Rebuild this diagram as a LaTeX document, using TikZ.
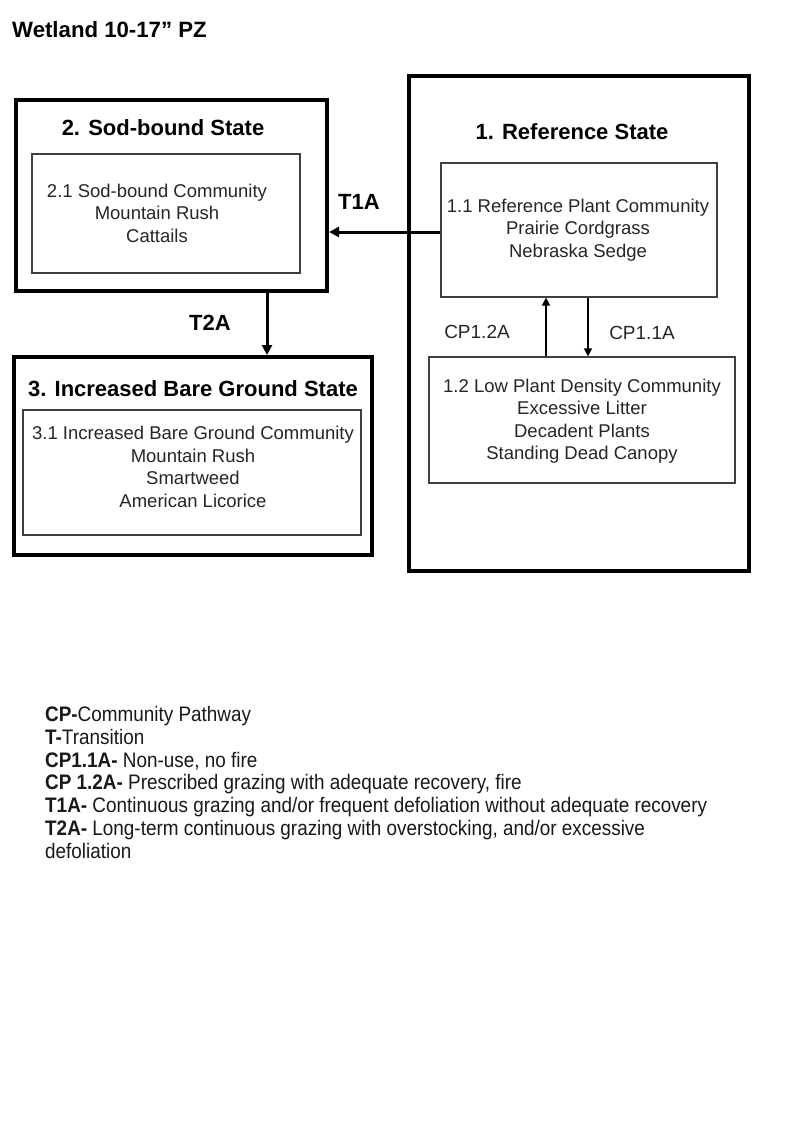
\documentclass[tikz,border=0pt]{standalone}
\usepackage{fontspec}
\setmainfont{Liberation Sans}
\newfontfamily\narrowfont[FakeStretch=0.9]{Liberation Sans}
\usetikzlibrary{arrows.meta}
\tikzset{
  statebox/.style={draw=black, line width=4pt, rectangle, inner sep=0pt},
  commbox/.style={draw=black!75, line width=1.2pt, rectangle, inner sep=0pt},
  commtext/.style={align=center, inner sep=0pt, text=black!85, font=\fontsize{18.5}{22.5}\selectfont},
  statetitle/.style={inner sep=0pt, font=\bfseries\fontsize{22}{26}\selectfont},
  translabel/.style={inner sep=0pt, font=\bfseries\fontsize{22}{26}\selectfont},
  cplabel/.style={inner sep=0pt, text=black!85, font=\fontsize{19}{22}\selectfont},
  bigarrow/.style={line width=3pt, -{Triangle[length=10pt,width=10pt]}},
  smallarrow/.style={line width=1.4pt, -{Triangle[length=8pt,width=8pt]}}
}
\begin{document}
\begin{tikzpicture}[x=1pt,y=-1pt]
\useasboundingbox[fill=white] (0,0) rectangle (800,1143);

\node[anchor=base west, inner sep=0pt, font=\bfseries\fontsize{22.2}{26}\selectfont] (title) at (12,37) {Wetland 10-17” PZ};

% state boxes
\node[statebox, minimum width=311pt, minimum height=191pt] (s2) at (171.5,195.5) {};
\node[statebox, minimum width=340pt, minimum height=495pt] (s1) at (579,323.5) {};
\node[statebox, minimum width=358pt, minimum height=198pt] (s3) at (193,456) {};

% community boxes
\node[commbox, minimum width=268pt, minimum height=119pt] (c21) at (166,213.5) {};
\node[commbox, minimum width=276pt, minimum height=134pt] (c11) at (579,230) {};
\node[commbox, minimum width=306pt, minimum height=126pt] (c12) at (582,420) {};
\node[commbox, minimum width=338pt, minimum height=125pt] (c31) at (192,472.5) {};

% state titles
\node[statetitle] (h2) at (163,128) {2. Sod-bound State};
\node[statetitle] (h1) at (572,132) {1. Reference State};
\node[statetitle] (h3) at (193,389) {3. Increased Bare Ground State};

% community texts
\node[commtext] (t21) at (157,213) {2.1 Sod-bound Community\\Mountain Rush\\Cattails};
\node[commtext] (t11) at (578,230) {1.1 Reference Plant Community\\Prairie Cordgrass\\Nebraska Sedge};
\node[commtext] (t12) at (582,421) {1.2 Low Plant Density Community\\Excessive Litter\\Decadent Plants\\Standing Dead Canopy};
\node[commtext] (t31) at (193,467) {3.1 Increased Bare Ground Community\\Mountain Rush\\Smartweed\\American Licorice};

% transitions
\coordinate (t1ay) at (0,232);
\coordinate (t2ax) at (267,0);
\draw[bigarrow] (c11.west |- t1ay) -- (s2.east |- t1ay);
\draw[bigarrow] (s2.south -| t2ax) -- (s3.north -| t2ax);
\node[translabel] (lt1a) at (359,202) {T1A};
\node[translabel] (lt2a) at (210,323) {T2A};

% community pathways
\coordinate (cpup) at (546,0);
\coordinate (cpdn) at (588,0);
\draw[smallarrow] (c12.north -| cpup) -- (c11.south -| cpup);
\draw[smallarrow] (c11.south -| cpdn) -- (c12.north -| cpdn);
\node[cplabel] (lcp12) at (477,332) {CP1.2A};
\node[cplabel] (lcp11) at (642,333) {CP1.1A};

% legend
\node[anchor=north west, align=left, inner sep=0pt, text=black!90,
      font=\narrowfont\fontsize{21}{22.8}\selectfont] (legend) at (45,706) {%
\textbf{CP-}Community Pathway\\
\textbf{T-}Transition\\
\textbf{CP1.1A-} Non-use, no fire\\
\textbf{CP 1.2A-} Prescribed grazing with adequate recovery, fire\\
\textbf{T1A-} Continuous grazing and/or frequent defoliation without adequate recovery\\
\textbf{T2A-} Long-term continuous grazing with overstocking, and/or excessive\\
defoliation};
\end{tikzpicture}
\end{document}
